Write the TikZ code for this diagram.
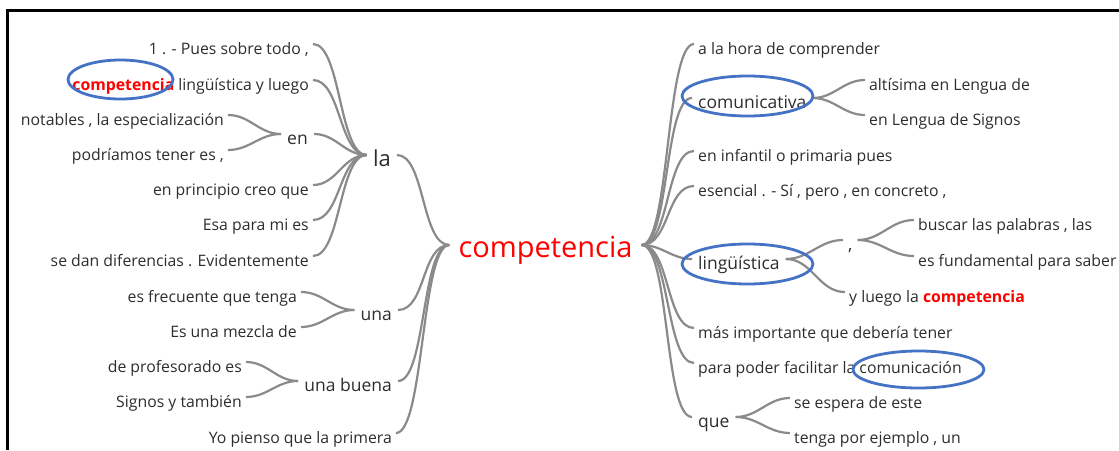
\documentclass[tikz,border=0pt]{standalone}
\usepackage{fontspec}
\setmainfont{Open Sans}
\usepackage{xcolor}

\definecolor{linkgray}{RGB}{138,138,138}
\definecolor{ringblue}{RGB}{68,114,196}
\definecolor{wordgray}{RGB}{45,45,45}

\tikzset{
  word/.style={font=\fontsize{15.8}{18}\selectfont, text=wordgray, inner xsep=4pt, inner ysep=0pt, text height=20pt, text depth=0pt},
  midword/.style={word, font=\fontsize{17.5}{20}\selectfont, inner xsep=6pt},
  lword/.style={word, anchor=base east},
  rword/.style={word, anchor=base west},
  link/.style={draw=linkgray, line width=2.2pt},
  lbend/.style={out=180, in=0, max distance=28pt},
  rbend/.style={out=0, in=180, max distance=28pt},
  ring/.style={draw=ringblue, line width=2.8pt},
}
\newcommand{\hot}[1]{\textcolor{red}{\bfseries #1}}

\begin{document}
\begin{tikzpicture}[x=1pt, y=-1pt]
	\useasboundingbox (0,0) rectangle (1119,450);
	\draw [line width=3pt] (7.5,450) -- (7.5,10.5) -- (1119,10.5);

	% centre word
	\node [font=\fontsize{29}{32}\selectfont, text=red, anchor=base, inner xsep=9pt, inner ysep=0pt, text height=24pt, text depth=0pt] (comp) at (545.5,257) {competencia};

	% left side
	\node [word, font=\fontsize{22}{24}\selectfont, inner xsep=6pt, text height=22pt, anchor=base east] (la) at (397,166) {la};
	\node [midword, anchor=base east] (en) at (314,144) {en};
	\node [midword, anchor=base east] (una) at (398,320) {una};
	\node [midword, anchor=base east] (buena) at (398,391) {una buena};

	\node [lword] (p1) at (313,54) {1 . - Pues sobre todo ,};
	\node [lword] (p2) at (313,90) {\hot{competencia} lingüística y luego};
	\node [lword] (p3) at (228,125) {notables , la especialización};
	\node [lword] (p4) at (228,160) {podríamos tener es ,};
	\node [lword] (p5) at (313,195) {en principio creo que};
	\node [lword] (p6) at (313,230) {Esa para mi es};
	\node [lword] (p7) at (313,266) {se dan diferencias . Evidentemente};
	\node [lword] (p8) at (301,302) {es frecuente que tenga};
	\node [lword] (p9) at (301,337) {Es una mezcla de};
	\node [lword] (p10) at (246,372) {de profesorado es};
	\node [lword] (p11) at (246,407) {Signos y también};
	\node [lword] (p12) at (396,443) {Yo pienso que la primera};

	% right side
	\node [midword, anchor=base west] (comu) at (692,108) {comunicativa};
	\node [midword, anchor=base west] (ling) at (692,269) {lingüística};
	\node [midword, anchor=base west, inner xsep=5pt] (comma) at (843,250) {,};
	\node [midword, anchor=base west] (que) at (692,427) {que};

	\node [rword] (q1) at (694,54) {a la hora de comprender};
	\node [rword] (q2) at (865,90) {altísima en Lengua de};
	\node [rword] (q3) at (865,125) {en Lengua de Signos};
	\node [rword] (q4) at (694,161) {en infantil o primaria pues};
	\node [rword] (q5) at (694,196) {esencial . - Sí , pero , en concreto ,};
	\node [rword] (q6) at (914,230) {buscar las palabras , las};
	\node [rword] (q7) at (914,266) {es fundamental para saber};
	\node [rword] (q8) at (845,302) {y luego la \hot{competencia}};
	\node [rword] (q9) at (694,338) {más importante que debería tener};
	\node [rword] (q10) at (694,373) {para poder facilitar la comunicación};
	\node [rword] (q11) at (790,408) {se espera de este};
	\node [rword] (q12) at (790,443) {tenga por ejemplo , un};

	% branches, left
	\draw [link] (comp.west) to [lbend] (la.east);
	\draw [link] (comp.west) to [lbend] (una.east);
	\draw [link] (comp.west) to [lbend] (buena.east);
	\draw [link] (comp.west) to [lbend] (p12.east);
	\draw [link] (la.west) to [lbend] (p1.east);
	\draw [link] (la.west) to [lbend] (p2.east);
	\draw [link] (la.west) to [lbend] (en.east);
	\draw [link] (la.west) to [lbend] (p5.east);
	\draw [link] (la.west) to [lbend] (p6.east);
	\draw [link] (la.west) to [lbend] (p7.east);
	\draw [link] (en.west) to [lbend] (p3.east);
	\draw [link] (en.west) to [lbend] (p4.east);
	\draw [link] (una.west) to [lbend] (p8.east);
	\draw [link] (una.west) to [lbend] (p9.east);
	\draw [link] (buena.west) to [lbend] (p10.east);
	\draw [link] (buena.west) to [lbend] (p11.east);

	% branches, right
	\draw [link] (comp.east) to [rbend] (q1.west);
	\draw [link] (comp.east) to [rbend] (comu.west);
	\draw [link] (comp.east) to [rbend] (q4.west);
	\draw [link] (comp.east) to [rbend] (q5.west);
	\draw [link] (comp.east) to [rbend] (ling.west);
	\draw [link] (comp.east) to [rbend] (q9.west);
	\draw [link] (comp.east) to [rbend] (q10.west);
	\draw [link] (comp.east) to [rbend] (que.west);
	\draw [link] (comu.east) to [rbend] (q2.west);
	\draw [link] (comu.east) to [rbend] (q3.west);
	\draw [link] (ling.east) to [rbend] (comma.west);
	\draw [link] (ling.east) to [rbend] (q8.west);
	\draw [link] (comma.east) to [rbend] (q6.west);
	\draw [link] (comma.east) to [rbend] (q7.west);
	\draw [link] (que.east) to [rbend] (q11.west);
	\draw [link] (que.east) to [rbend] (q12.west);

	% highlighted words
	\draw [ring] (120.5,79.5) ellipse [x radius=52.5, y radius=19.5];
	\draw [ring] (747.5,96) ellipse [x radius=65.5, y radius=20];
	\draw [ring] (747.5,264) ellipse [x radius=65.5, y radius=20];
	\draw [ring] (918.5,369.5) ellipse [x radius=65.5, y radius=18.5];
\end{tikzpicture}
\end{document}
